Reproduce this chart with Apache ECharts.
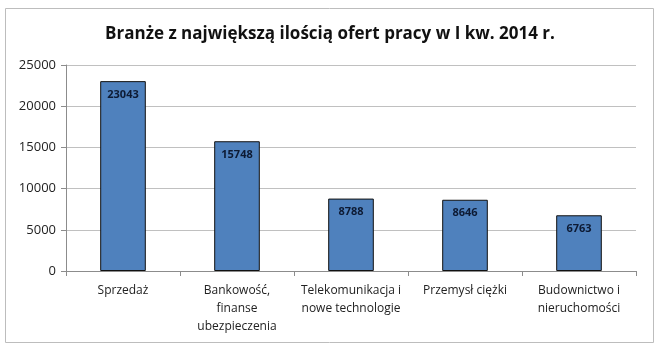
<!DOCTYPE html>
<html>
<head>
<meta charset="utf-8">
<script src="https://cdn.jsdelivr.net/npm/echarts@6/dist/echarts.min.js"></script>
<style>
  html, body { margin: 0; padding: 0; background: #fff; }
  #chart { width: 660px; height: 352px; }
</style>
</head>
<body>
<div id="chart"></div>
<script>
const categories = [
  'Sprzedaż',
  'Bankowość,\nfinanse\nubezpieczenia',
  'Telekomunikacja i\nnowe technologie',
  'Przemysł ciężki',
  'Budownictwo i\nnieruchomości'
];
const offers = [23043, 15748, 8788, 8646, 6763];
const yTicks = [0, 5000, 10000, 15000, 20000, 25000];

const chart = echarts.init(document.getElementById('chart'));
chart.setOption({
  animation: false,
  textStyle: { fontFamily: 'Open Sans' },
  graphic: [
    {
      type: 'rect',
      shape: { x: 5.5, y: 8.5, width: 648, height: 334 },
      style: { fill: 'none', stroke: '#bdbdbd', lineWidth: 1 }
    }
  ],
  title: {
    text: 'Branże z największą ilością ofert pracy w I kw. 2014 r.',
    left: 'center',
    top: 21,
    textStyle: { fontSize: 17, fontWeight: 'bold', color: '#111', fontFamily: 'Open Sans' }
  },
  grid: { left: 66, right: 24, top: 65, bottom: 81 },
  xAxis: {
    type: 'category',
    data: categories,
    axisLine: { lineStyle: { color: '#8c8c8c' } },
    axisTick: { show: true, length: 5, lineStyle: { color: '#8c8c8c' } },
    axisLabel: { color: '#222', fontSize: 12, lineHeight: 18, margin: 11, interval: 0 }
  },
  yAxis: {
    type: 'value',
    min: 0,
    max: 25000,
    interval: 5000,
    axisLine: { show: true, lineStyle: { color: '#8c8c8c' } },
    axisTick: { show: true, length: 5, lineStyle: { color: '#8c8c8c' } },
    axisLabel: {
      color: '#222', fontSize: 13, margin: 10,
      formatter: v => (yTicks.includes(v) ? String(v) : '')
    },
    splitLine: { lineStyle: { color: '#c0c0c0' } }
  },
  series: [
    {
      type: 'bar',
      data: offers,
      barWidth: '40%',
      itemStyle: { color: '#4f81bd', borderColor: '#111', borderWidth: 1 },
      label: {
        show: true,
        position: 'insideTop',
        distance: 8,
        fontSize: 11,
        fontWeight: 'bold',
        color: '#0d1a33'
      }
    }
  ]
});
</script>
</body>
</html>
